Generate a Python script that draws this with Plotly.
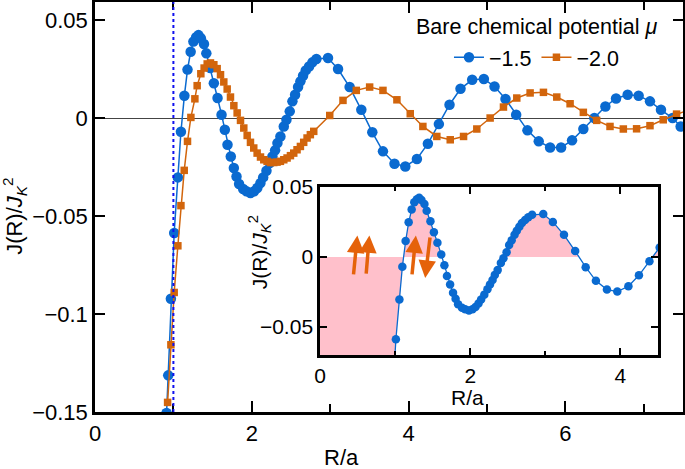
import numpy as np
import plotly.graph_objects as go

# ---------------- data ----------------
R_blue = [0.913, 0.934, 0.968, 1.01, 1.057, 1.096, 1.14, 1.18, 1.22, 1.255, 1.29, 1.32, 1.35,
          1.39, 1.42, 1.47, 1.516, 1.563, 1.614, 1.656, 1.69, 1.732, 1.771, 1.805, 1.838,
          1.89, 1.932, 1.983, 2.03, 2.07, 2.11, 2.145, 2.187, 2.229, 2.263, 2.297, 2.327,
          2.365, 2.408, 2.442, 2.484, 2.518, 2.552, 2.59, 2.62, 2.654, 2.688, 2.73, 2.773,
          2.824, 2.972, 3.1, 3.248, 3.397, 3.537, 3.673, 3.82, 3.958, 4.106, 4.246, 4.386,
          4.522, 4.662, 4.811, 4.96, 5.096, 5.236, 5.372, 5.516, 5.66, 5.805, 5.945, 6.085,
          6.229, 6.369, 6.51, 6.646, 6.794, 6.934, 7.079, 7.219, 7.367, 7.47, 7.61]
J_blue = [-0.1505, -0.1313, -0.0922, -0.0587, -0.0303, -0.0070, 0.0114, 0.0247, 0.0338, 0.0390,
          0.0412, 0.0423, 0.0407, 0.0378, 0.0330, 0.0255, 0.0177, 0.0102, 0.0017, -0.0060,
          -0.0136, -0.0196, -0.0255, -0.0298, -0.0337, -0.0362, -0.0374, -0.0383, -0.0374,
          -0.0357, -0.0332, -0.0303, -0.0269, -0.0230, -0.0196, -0.0165, -0.0128, -0.0094,
          -0.0043, -0.0009, 0.0034, 0.0085, 0.0119, 0.0158, 0.0187, 0.0216, 0.0243, 0.0263,
          0.0284, 0.0301, 0.0306, 0.0250, 0.0158, 0.0042, -0.0073, -0.0170, -0.0233, -0.0247,
          -0.0209, -0.0131, -0.0031, 0.0068, 0.0149, 0.0195, 0.0199, 0.0161, 0.0097, 0.0017,
          -0.0063, -0.0119, -0.0150, -0.0150, -0.0114, -0.0056, 0.0000, 0.0059, 0.0100,
          0.0119, 0.0114, 0.0085, 0.0042, 0.0000, -0.0043, -0.0085]

R_orange = [0.926, 0.968, 1.01, 1.057, 1.096, 1.138, 1.18, 1.223, 1.274, 1.303, 1.35, 1.392,
            1.431, 1.473, 1.516, 1.558, 1.601, 1.643, 1.686, 1.728, 1.771, 1.813, 1.856, 1.898,
            1.941, 1.983, 2.025, 2.068, 2.111, 2.153, 2.195, 2.238, 2.28, 2.322, 2.365, 2.408,
            2.45, 2.493, 2.535, 2.577, 2.62, 2.662, 2.705, 2.747, 2.79, 2.994, 3.163, 3.333,
            3.503, 3.673, 3.851, 4.021, 4.182, 4.36, 4.531, 4.701, 4.87, 5.04, 5.21, 5.38,
            5.55, 5.72, 5.89, 6.06, 6.229, 6.399, 6.569, 6.739, 6.908, 7.079, 7.248, 7.418, 7.59]
J_orange = [-0.1451, -0.1157, -0.0890, -0.0652, -0.0447, -0.0267, -0.0119, 0.0003, 0.0098,
            0.0165, 0.0226, 0.0255, 0.0276, 0.0281, 0.0272, 0.0252, 0.0221, 0.0184, 0.0148,
            0.0107, 0.0063, 0.0026, -0.0012, -0.0051, -0.0089, -0.0124, -0.0153, -0.0179,
            -0.0199, -0.0213, -0.0221, -0.0227, -0.0227, -0.0225, -0.0221, -0.0213, -0.0204,
            -0.0192, -0.0179, -0.0162, -0.0145, -0.0124, -0.0102, -0.0085, -0.0068, 0.0013,
            0.0090, 0.0141, 0.0158, 0.0141, 0.0093, 0.0022, -0.0043, -0.0094, -0.0111,
            -0.0094, -0.0056, 0.0000, 0.0056, 0.0102, 0.0128, 0.0131, 0.0107, 0.0073, 0.0029,
            -0.0012, -0.0043, -0.0056, -0.0055, -0.0039, -0.0009, 0.0020, 0.0045]

series_names = ["\u22121.5", "\u22122.0"]
legend_title = "Bare chemical potential <i>\u03bc</i>"

main_x_ticks = [0, 2, 4, 6]
main_x_minor = [1, 3, 5, 7]
main_y_ticks = [0.05, 0, -0.05, -0.1, -0.15]
main_y_text = ["0.05", "0", "\u22120.05", "\u22120.1", "\u22120.15"]
inset_x_ticks = [0, 2, 4]
inset_x_minor = [1, 3]
inset_y_ticks = [0.05, 0, -0.05]
inset_y_text = ["0.05", "0", "\u22120.05"]

hard_core_R = 1.0

# spin arrows in inset: (tail R, tail J, head R, head J)
spin_arrows = [(0.444, -0.0135, 0.497, 0.0154),
               (0.613, -0.0130, 0.657, 0.0154),
               (1.223, -0.0135, 1.276, 0.0154),
               (1.467, 0.0150, 1.400, -0.0150)]

BLUE = "#0A6AD0"
ORANGE = "#D2650C"
PINK = "#FFC0CB"
FONT = "Liberation Sans, Arial, sans-serif"

# ---------------- fill for inset (derived from blue data) ----------------
Rb = np.array(R_blue)
Jb = np.array(J_blue)
fx, fy = [0.0], [Jb[0]]
past_core = False
for i in range(len(Rb)):
    if i > 0 and (Jb[i - 1] < 0) != (Jb[i] < 0):
        r0 = Rb[i - 1] + (Rb[i] - Rb[i - 1]) * (-Jb[i - 1]) / (Jb[i] - Jb[i - 1])
        fx.append(r0)
        fy.append(0.0)
        if Jb[i] > 0:
            past_core = True
    fx.append(Rb[i])
    fy.append(Jb[i] if not past_core else max(Jb[i], 0.0))

fig = go.Figure()

fig.add_trace(go.Scatter(x=R_blue, y=J_blue, mode="lines+markers", name=series_names[0],
                         line=dict(color=BLUE, width=1.5),
                         marker=dict(symbol="circle", size=10.5, color=BLUE),
                         xaxis="x", yaxis="y"))
fig.add_trace(go.Scatter(x=R_orange, y=J_orange, mode="lines+markers", name=series_names[1],
                         line=dict(color=ORANGE, width=1.5),
                         marker=dict(symbol="square", size=7.5, color=ORANGE),
                         xaxis="x", yaxis="y"))

fig.add_trace(go.Scatter(x=fx, y=fy, mode="lines", fill="tozeroy", fillcolor=PINK,
                         line=dict(width=0, color=PINK), showlegend=False,
                         xaxis="x2", yaxis="y2", hoverinfo="skip"))
fig.add_trace(go.Scatter(x=R_blue, y=J_blue, mode="lines+markers", showlegend=False,
                         line=dict(color=BLUE, width=1.3),
                         marker=dict(symbol="circle", size=8.5, color=BLUE),
                         xaxis="x2", yaxis="y2"))

fig.update_layout(
    template="none",
    width=685, height=469,
    margin=dict(l=95, r=2, t=2, b=57, pad=0),
    paper_bgcolor="white", plot_bgcolor="white",
    font=dict(family=FONT, size=22, color="black"),
    xaxis=dict(range=[0, 7.5], domain=[0, 1], tickmode="array", tickvals=main_x_ticks,
               ticklen=11, mirror="allticks", zeroline=False, automargin=False,
               minor=dict(tickmode="array", tickvals=main_x_minor, ticks="inside",
                          ticklen=8, tickcolor="black", tickwidth=2, showgrid=False),
               showline=True, linecolor="black", linewidth=2.5, showgrid=False,
               ticks="inside", tickcolor="black", tickwidth=2,
               tickfont=dict(family=FONT, size=22, color="black")),
    yaxis=dict(range=[-0.15, 0.0592], domain=[0, 1], tickmode="array",
               tickvals=main_y_ticks, ticktext=main_y_text, ticklen=10, mirror="allticks",
               zeroline=True, zerolinecolor="#444444", zerolinewidth=1, automargin=False,
               showline=True, linecolor="black", linewidth=2.5, showgrid=False,
               ticks="inside", tickcolor="black", tickwidth=2,
               tickfont=dict(family=FONT, size=22, color="black")),
    xaxis2=dict(range=[0, 4.5], domain=[0.3827, 0.9575], anchor="y2", tickmode="array",
                tickvals=inset_x_ticks, ticklen=7, mirror="allticks", automargin=False,
                minor=dict(tickmode="array", tickvals=inset_x_minor, ticks="inside",
                           ticklen=4, tickcolor="black", tickwidth=2, showgrid=False),
                zeroline=False, showline=True, linecolor="black", linewidth=2.5,
                showgrid=False, ticks="inside", tickcolor="black", tickwidth=2,
                tickfont=dict(family=FONT, size=21, color="black")),
    yaxis2=dict(range=[-0.07, 0.05], domain=[0.139, 0.549], anchor="x2", tickmode="array",
                tickvals=inset_y_ticks, ticktext=inset_y_text, ticklen=7, mirror="allticks",
                automargin=False,
                zeroline=False, showline=True, linecolor="black", linewidth=2.5,
                showgrid=False, ticks="inside", tickcolor="black", tickwidth=2,
                tickfont=dict(family=FONT, size=21, color="black")),
    showlegend=True,
    legend=dict(orientation="h", x=0.602, y=0.915, xanchor="left", yanchor="top",
                bgcolor="rgba(0,0,0,0)", font=dict(family=FONT, size=21.5),
                itemwidth=30, tracegroupgap=0, borderwidth=0),
)

fig.add_shape(type="line", xref="x", yref="y domain", x0=hard_core_R, x1=hard_core_R,
              y0=0, y1=1, line=dict(color="#1010EE", width=2, dash="dot"), layer="above")

annotations = [
    dict(text=legend_title, xref="paper", yref="paper", x=0.751, y=0.939,
         xanchor="center", yanchor="middle", showarrow=False,
         font=dict(family=FONT, size=21.5)),
    dict(text="R/a", xref="paper", yref="paper", x=0.42, y=-0.11,
         xanchor="center", yanchor="middle", showarrow=False, font=dict(family=FONT, size=22)),
    dict(text="J(R)/<i>J</i><sub><i>K</i></sub><sup>2</sup>", xref="paper", yref="paper",
         x=-0.136, y=0.476, xanchor="center", yanchor="middle", textangle=-90,
         showarrow=False, font=dict(family=FONT, size=22)),
    dict(text="R/a", xref="paper", yref="paper", x=0.634, y=0.035,
         xanchor="center", yanchor="middle", showarrow=False, font=dict(family=FONT, size=21)),
    dict(text="J(R)/<i>J</i><sub><i>K</i></sub><sup>2</sup>", xref="paper", yref="paper",
         x=0.279, y=0.39, xanchor="center", yanchor="middle", textangle=-90,
         showarrow=False, font=dict(family=FONT, size=21)),
]
for (tx, ty, hx, hy) in spin_arrows:
    annotations.append(dict(x=hx, y=hy, ax=tx, ay=ty, xref="x2", yref="y2",
                            axref="x2", ayref="y2", text="", showarrow=True,
                            arrowhead=2, arrowsize=1.0, arrowwidth=3.5,
                            arrowcolor="#E5620A"))
fig.update_layout(annotations=annotations)

fig.write_html("out.html", config={"displayModeBar": False},
               post_script="document.body.style.margin='0px';")
